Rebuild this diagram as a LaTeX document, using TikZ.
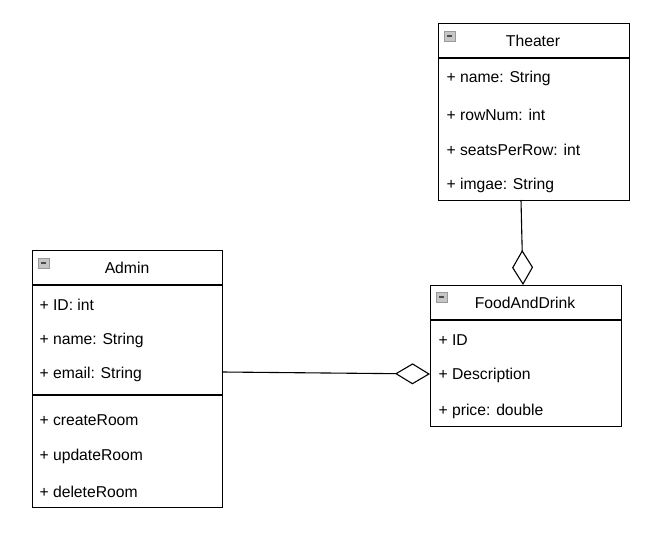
\documentclass[tikz,border=0pt]{standalone}
\usepackage{fontspec}
\setmainfont{Liberation Sans}
\usetikzlibrary{arrows.meta}
\tikzset{
  classbox/.style={draw, line width=1.2pt, anchor=north west, inner sep=0pt},
  attr/.style={anchor=west, yshift=-1.5pt, font=\fontsize{15.7}{18}\selectfont},
  title/.style={font=\fontsize{15.7}{18}\selectfont},
  aggr/.style={line width=1.1pt, -{Diamond[open, length=35pt, width=21pt]}},
}
\newcommand{\foldicon}[2]{%
  \filldraw[fill=gray!45, draw=gray!80, line width=0.6pt] (#1,#2) rectangle ++(11,10);
  \draw[line width=1.4pt, black!70] (#1+3,#2+5) -- ++(5,0);}
\begin{document}
\begin{tikzpicture}[x=1pt, y=-1pt]
\useasboundingbox (0,0) rectangle (659,559);

% Theater
\node[classbox, minimum width=191pt, minimum height=177pt] (theater) at (438,23) {};
\draw[line width=1.2pt] (438,58) -- (629,58);
\foldicon{444}{31}
\node[title] (theaterT) at (533,41) {Theater};
\node[attr] (th1) at (443,77) {+ name: String};
\node[attr] (th2) at (443,113) {+ rowNum: int};
\node[attr] (th3) at (443,148) {+ seatsPerRow: int};
\node[attr] (th4) at (443,184) {+ imgae: String};

% Admin
\node[classbox, minimum width=190pt, minimum height=257pt] (admin) at (32,250) {};
\draw[line width=1.2pt] (32,285) -- (222,285);
\draw[line width=1.2pt] (32,395) -- (222,395);
\foldicon{38}{258}
\node[title] (adminT) at (127,268) {Admin};
\node[attr] (ad1) at (36,303) {+ ID: int};
\node[attr] (ad2) at (36,339) {+ name: String};
\node[attr] (ad3) at (36,373) {+ email: String};
\node[attr] (ad4) at (36,419) {+ createRoom};
\node[attr] (ad5) at (36,455) {+ updateRoom};
\node[attr] (ad6) at (36,490) {+ deleteRoom};

% FoodAndDrink
\node[classbox, minimum width=191pt, minimum height=141pt] (food) at (430,285) {};
\draw[line width=1.2pt] (430,320) -- (621,320);
\foldicon{436}{292}
\node[title] (foodT) at (525,303) {FoodAndDrink};
\node[attr] (fd1) at (435,339) {+ ID};
\node[attr] (fd2) at (435,374) {+ Description};
\node[attr] (fd3) at (435,410) {+ price: double};

% aggregations
\coordinate (thOut) at (521,200);
\coordinate (fdTop) at (523,285);
\coordinate (adOut) at (222,372);
\coordinate (fdLeft) at (430,374);
\draw[aggr] (thOut) -- (fdTop);
\draw[aggr] (adOut) -- (fdLeft);

\end{tikzpicture}
\end{document}
